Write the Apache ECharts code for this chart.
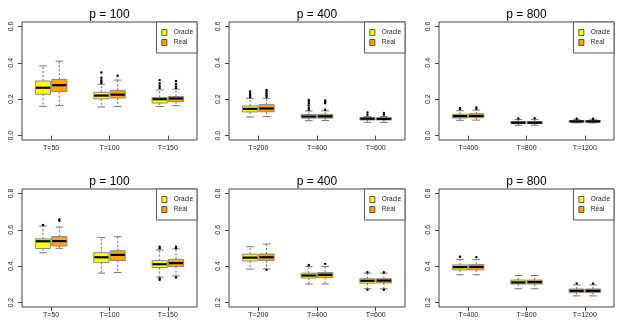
<!DOCTYPE html>
<html>
<head>
<meta charset="utf-8">
<script src="https://cdn.jsdelivr.net/npm/echarts@6/dist/echarts.min.js"></script>
<style>html,body{margin:0;padding:0;background:#fff;}#c{width:625px;height:334px;}</style>
</head>
<body>
<div id="c"></div>
<script>
// ---- data: [lower whisker, Q1, median, Q3, upper whisker] ----
const panelTitles = ['p = 100', 'p = 400', 'p = 800', 'p = 100', 'p = 400', 'p = 800'];
const catsP100 = ['T=50', 'T=100', 'T=150'];
const catsP400 = ['T=200', 'T=400', 'T=600'];
const catsP800 = ['T=400', 'T=800', 'T=1200'];
const yTicksTop = [0, 0.2, 0.4, 0.6];
const yTicksBottom = [0.2, 0.4, 0.6, 0.8];
const seriesNames = ['Oracle', 'Real'];

// top row
const top100Oracle = [[0.161,0.227,0.263,0.300,0.383],[0.157,0.202,0.220,0.238,0.282],[0.160,0.179,0.200,0.210,0.251]];
const top100Real   = [[0.165,0.242,0.277,0.309,0.409],[0.160,0.207,0.225,0.249,0.305],[0.165,0.186,0.204,0.215,0.255]];
const top100OracleOut = [[1,0.347],[1,0.318],[1,0.305],[1,0.296],[1,0.289],[2,0.305],[2,0.287],[2,0.274],[2,0.262]];
const top100RealOut   = [[1,0.329],[2,0.300],[2,0.282],[2,0.270],[2,0.262]];

const top400Oracle = [[0.102,0.130,0.147,0.163,0.205],[0.082,0.096,0.105,0.116,0.135],[0.073,0.086,0.093,0.098,0.105]];
const top400Real   = [[0.105,0.131,0.149,0.170,0.205],[0.083,0.096,0.106,0.117,0.136],[0.073,0.086,0.092,0.098,0.105]];
const top400OracleOut = [[0,0.242],[0,0.232],[0,0.224],[0,0.216],[0,0.211],[1,0.196],[1,0.186],[1,0.176],[1,0.165],[1,0.152],[1,0.142],[2,0.127],[2,0.115]];
const top400RealOut   = [[0,0.251],[0,0.242],[0,0.232],[0,0.222],[0,0.212],[1,0.193],[1,0.185],[1,0.178],[1,0.142],[2,0.125],[2,0.115]];

const top800Oracle = [[0.084,0.097,0.107,0.117,0.137],[0.057,0.066,0.071,0.078,0.088],[0.070,0.074,0.078,0.083,0.090]];
const top800Real   = [[0.085,0.099,0.108,0.120,0.140],[0.057,0.066,0.071,0.078,0.089],[0.070,0.074,0.078,0.083,0.090]];
const top800OracleOut = [[0,0.152],[0,0.146],[1,0.094],[2,0.093]];
const top800RealOut   = [[0,0.155],[0,0.147],[1,0.096],[2,0.093]];

// bottom row
const bot100Oracle = [[0.474,0.497,0.537,0.550,0.620],[0.362,0.420,0.449,0.474,0.558],[0.340,0.393,0.411,0.431,0.489]];
const bot100Real   = [[0.498,0.511,0.538,0.563,0.615],[0.365,0.431,0.462,0.485,0.562],[0.347,0.398,0.417,0.438,0.495]];
const bot100OracleOut = [[0,0.626],[2,0.507],[2,0.498],[2,0.332],[2,0.325]];
const bot100RealOut   = [[0,0.657],[0,0.649],[2,0.507],[2,0.500],[2,0.338]];

const bot400Oracle = [[0.384,0.429,0.447,0.466,0.507],[0.302,0.335,0.349,0.362,0.398],[0.276,0.307,0.320,0.331,0.362]];
const bot400Real   = [[0.385,0.431,0.449,0.467,0.522],[0.302,0.338,0.353,0.365,0.398],[0.276,0.308,0.321,0.331,0.362]];
const bot400OracleOut = [[1,0.407],[2,0.367],[2,0.271]];
const bot400RealOut   = [[0,0.380],[1,0.413],[2,0.367],[2,0.271]];

const bot800Oracle = [[0.353,0.380,0.395,0.407,0.438],[0.276,0.302,0.311,0.324,0.349],[0.237,0.255,0.265,0.275,0.297]];
const bot800Real   = [[0.353,0.380,0.396,0.409,0.438],[0.276,0.302,0.313,0.324,0.349],[0.237,0.255,0.265,0.275,0.297]];
const bot800OracleOut = [[0,0.452],[2,0.305]];
const bot800RealOut   = [[0,0.450],[2,0.305]];

// ---- layout / style ----
const FONT = 'Liberation Sans, Arial, Helvetica, sans-serif';
const COLORS = ['#FFFF00', '#FFA500'];
const panels = [
  {cats: catsP100, oracle: top100Oracle, real: top100Real, oOut: top100OracleOut, rOut: top100RealOut, ticks: yTicksTop, min: -0.024, max: 0.624, left: 22, top: 22, w: 175},
  {cats: catsP400, oracle: top400Oracle, real: top400Real, oOut: top400OracleOut, rOut: top400RealOut, ticks: yTicksTop, min: -0.024, max: 0.624, left: 229, top: 22, w: 176},
  {cats: catsP800, oracle: top800Oracle, real: top800Real, oOut: top800OracleOut, rOut: top800RealOut, ticks: yTicksTop, min: -0.024, max: 0.624, left: 439, top: 22, w: 175},
  {cats: catsP100, oracle: bot100Oracle, real: bot100Real, oOut: bot100OracleOut, rOut: bot100RealOut, ticks: yTicksBottom, min: 0.176, max: 0.824, left: 22, top: 189, w: 175},
  {cats: catsP400, oracle: bot400Oracle, real: bot400Real, oOut: bot400OracleOut, rOut: bot400RealOut, ticks: yTicksBottom, min: 0.176, max: 0.824, left: 229, top: 189, w: 176},
  {cats: catsP800, oracle: bot800Oracle, real: bot800Real, oOut: bot800OracleOut, rOut: bot800RealOut, ticks: yTicksBottom, min: 0.176, max: 0.824, left: 439, top: 189, w: 175}
];
const GRID_H = 118;
const OFFSET = 0.14;   // fraction of band
const BOXW = 0.26;     // fraction of band

function boxRender(side, fill) {
  return function (params, api) {
    const x = api.value(0);
    const band = api.size([1, 0])[0];
    const c0 = api.coord([x, api.value(3)]);
    const cx = c0[0] + side * OFFSET * band;
    const w = BOXW * band;
    const yLo = api.coord([x, api.value(1)])[1];
    const yQ1 = api.coord([x, api.value(2)])[1];
    const yMed = c0[1];
    const yQ3 = api.coord([x, api.value(4)])[1];
    const yHi = api.coord([x, api.value(5)])[1];
    const wStyle = {stroke: '#666', lineWidth: 1, lineDash: [2, 2]};
    const cStyle = {stroke: '#777', lineWidth: 1};
    return {
      type: 'group',
      children: [
        {type: 'line', shape: {x1: cx, y1: yQ3, x2: cx, y2: yHi}, style: wStyle},
        {type: 'line', shape: {x1: cx, y1: yQ1, x2: cx, y2: yLo}, style: wStyle},
        {type: 'line', shape: {x1: cx - w / 4, y1: yHi, x2: cx + w / 4, y2: yHi}, style: cStyle},
        {type: 'line', shape: {x1: cx - w / 4, y1: yLo, x2: cx + w / 4, y2: yLo}, style: cStyle},
        {type: 'rect', shape: {x: cx - w / 2, y: yQ3, width: w, height: yQ1 - yQ3}, style: {fill: fill, stroke: '#888', lineWidth: 1}},
        {type: 'line', shape: {x1: cx - w / 2 + 0.5, y1: yMed, x2: cx + w / 2 - 0.5, y2: yMed}, style: {stroke: '#000', lineWidth: 2.2}}
      ]
    };
  };
}
function outRender(side) {
  return function (params, api) {
    const x = api.value(0);
    const band = api.size([1, 0])[0];
    const p = api.coord([x, api.value(1)]);
    return {type: 'circle', shape: {cx: p[0] + side * OFFSET * band, cy: p[1], r: 1.2}, style: {fill: '#000'}};
  };
}

const grid = [], xAxis = [], yAxis = [], series = [], legend = [], graphic = [];
panels.forEach(function (p, i) {
  grid.push({left: p.left, top: p.top, width: p.w, height: GRID_H, show: true, borderColor: '#444', borderWidth: 1, backgroundColor: 'transparent'});
  xAxis.push({
    type: 'category', gridIndex: i, data: p.cats, boundaryGap: true,
    axisLine: {show: false},
    axisTick: {show: true, alignWithLabel: true, length: 4, lineStyle: {color: '#444'}},
    axisLabel: {fontSize: 7, color: '#222', margin: 5, fontFamily: FONT},
    splitLine: {show: false}
  });
  yAxis.push({
    type: 'value', gridIndex: i, min: p.min, max: p.max,
    axisLine: {show: false},
    axisTick: {show: true, length: 4, customValues: p.ticks, lineStyle: {color: '#444'}},
    axisLabel: {fontSize: 7, color: '#222', rotate: 90, margin: 7, customValues: p.ticks, fontFamily: FONT,
      formatter: function (v) { return v.toFixed(1); }},
    splitLine: {show: false}
  });
  [[p.oracle, p.oOut, -1, 0], [p.real, p.rOut, 1, 1]].forEach(function (s) {
    series.push({
      type: 'custom', name: seriesNames[s[3]], xAxisIndex: i, yAxisIndex: i,
      itemStyle: {color: COLORS[s[3]]},
      data: s[0].map(function (v, k) { return [k].concat(v); }),
      encode: {x: 0, y: [1, 2, 3, 4, 5]},
      renderItem: boxRender(s[2], COLORS[s[3]]),
      silent: true
    });
    series.push({
      type: 'custom', name: seriesNames[s[3]] + ' outliers', xAxisIndex: i, yAxisIndex: i,
      data: s[1], encode: {x: 0, y: 1},
      renderItem: outRender(s[2]), silent: true, z: 3
    });
  });
  legend.push({
    orient: 'vertical', right: 625 - (p.left + p.w), top: p.top,
    data: seriesNames.map(function (n, k) { return {name: n, itemStyle: {color: COLORS[k], borderColor: '#333', borderWidth: 0.8}}; }),
    selectedMode: false, icon: 'rect', itemWidth: 5, itemHeight: 6, itemGap: 3,
    padding: [7, 4, 7, 5], borderColor: '#555', borderWidth: 1, backgroundColor: '#fff',
    textStyle: {fontSize: 6.5, color: '#222', fontFamily: FONT, padding: [0, 0, 0, 2]}
  });
  graphic.push({
    type: 'text', x: p.left + p.w / 2, y: p.top - 7,
    style: {text: panelTitles[i], fill: '#000', font: '12px ' + FONT, textAlign: 'center', textVerticalAlign: 'middle'}
  });
});

const chart = echarts.init(document.getElementById('c'), null, {renderer: 'canvas'});
chart.setOption({
  animation: false,
  backgroundColor: '#fff',
  grid: grid, xAxis: xAxis, yAxis: yAxis, series: series, legend: legend, graphic: graphic
});
</script>
</body>
</html>
